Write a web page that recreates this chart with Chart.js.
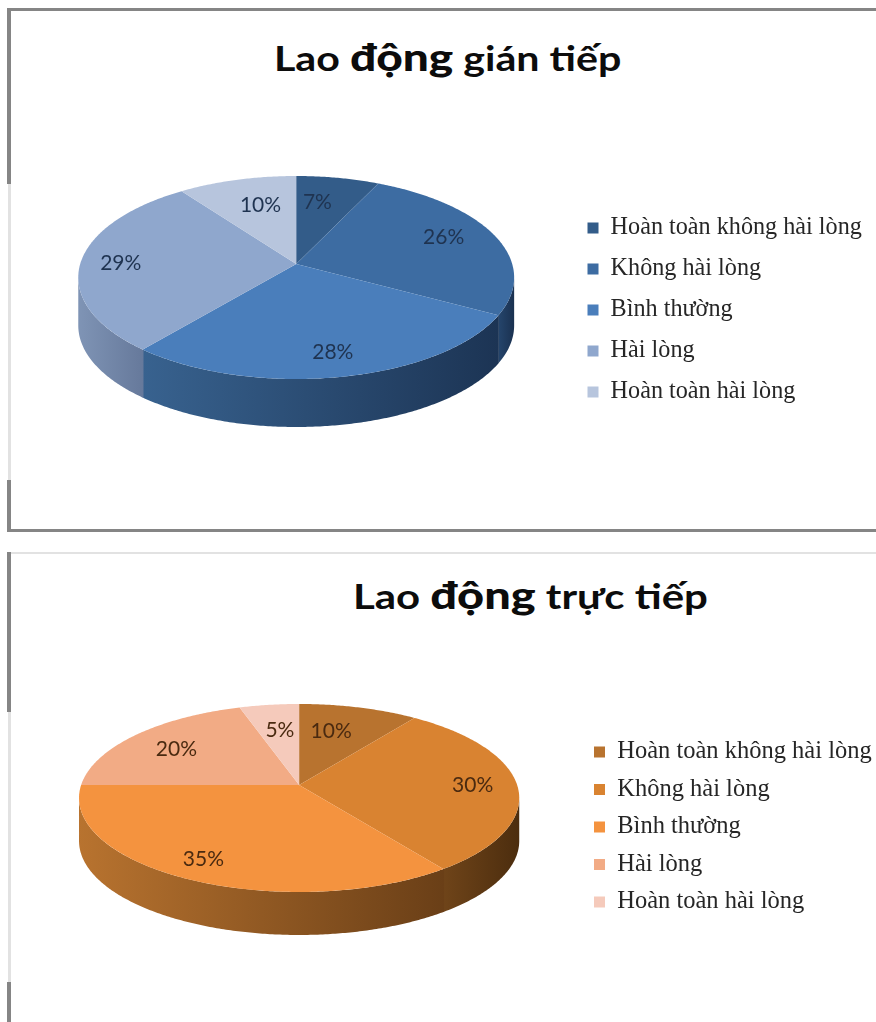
<!DOCTYPE html>
<html lang="vi">
<head>
<meta charset="utf-8">
<title>Mức độ hài lòng của người lao động</title>
<script src="https://cdn.jsdelivr.net/npm/chart.js@4"></script>
<style>
  html, body { margin: 0; padding: 0; background: #fff; }
  body { position: relative; width: 876px; height: 1022px; overflow: hidden; }
  canvas { position: absolute; left: 0; }
  .rule { position: absolute; background: #858585; }
  .rule.soft { background: #e2e2e2; }
  .heading {
    position: absolute; margin: 0; white-space: nowrap; color: #0c0c0c;
    font-family: Lato, "Open Sans", sans-serif; font-weight: 700; font-size: 34px; line-height: 44px;
    transform: scaleX(1.21); transform-origin: left center;
  }
  .heading b { font-size: 38px; font-weight: 900; }
</style>
</head>
<body>
<!-- panel frames -->
<div class="rule" style="left:7px;top:8px;width:869px;height:3px"></div>
<div class="rule" style="left:7px;top:8px;width:4px;height:176px"></div>
<div class="rule soft" style="left:8px;top:184px;width:3px;height:296px"></div>
<div class="rule" style="left:7px;top:480px;width:4px;height:52px"></div>
<div class="rule" style="left:7px;top:529px;width:869px;height:3px"></div>
<div class="rule soft" style="left:7px;top:552px;width:869px;height:2px"></div>
<div class="rule" style="left:7px;top:552px;width:4px;height:160px"></div>
<div class="rule soft" style="left:8px;top:712px;width:3px;height:270px"></div>
<div class="rule" style="left:7px;top:982px;width:4px;height:40px"></div>

<h2 class="heading" style="left:274px;top:34px">Lao <b>động</b> gián tiếp</h2>
<h2 class="heading" style="left:353px;top:572px;transform:scaleX(1.233)">Lao <b>động</b> trực tiếp</h2>

<canvas id="indirect" style="top:0" width="876" height="530"></canvas>
<canvas id="direct" style="top:530px" width="876" height="492"></canvas>

<script>
const categories = ["Hoàn toàn không hài lòng", "Không hài lòng", "Bình thường", "Hài lòng", "Hoàn toàn hài lòng"];
const indirectValues = [7, 26, 28, 29, 10];
const directValues = [10, 30, 35, 20, 5];

const indirectColors = ["#335c89", "#3d6ca2", "#4a7ebb", "#8fa7cd", "#b7c5dd"];
const directColors = ["#b8732f", "#d98331", "#f4933f", "#f2ab85", "#f5cabb"];

// rim shading, left colour then right colour, only the slices that reach the front
const indirectWalls = { 1: ["#25456c", "#1a3150"], 2: ["#38628f", "#1c3454"], 3: ["#7f94b5", "#66799b"] };
const directWalls = { 1: ["#6f4419", "#4c2d0e"], 2: ["#b8732f", "#6a3f17"] };

// Turns the flat circle Chart.js lays out into a tilted disc with a slight
// perspective. Angles and radius come from the arc elements.
const tiltedPie = {
  id: "tiltedPie",
  afterLayout(chart, args, opts) {
    const legend = chart.legend;
    legend.left = opts.legendLeft - legend.options.labels.padding;
    legend.top += opts.legendShift;
    legend.bottom += opts.legendShift;
  },
  beforeDatasetDraw(chart, args, opts) {
    const ctx = chart.ctx;
    const arcs = args.meta.data;
    const wallDepth = opts.depth;

    const project = (arc, angle, frac) => {
      const sin = Math.sin(angle), cos = Math.cos(angle);
      const w = 1 - opts.perspective * frac * sin;
      return {
        x: arc.x + frac * arc.outerRadius * cos / w,
        y: arc.y + frac * arc.outerRadius * opts.squash * sin / w
      };
    };

    const rimAngles = (from, to) => {
      const out = [];
      const steps = Math.max(2, Math.ceil((to - from) / 0.01));
      for (let s = 0; s <= steps; s++) out.push(from + (to - from) * s / steps);
      return out;
    };

    // side wall first, only where the rim faces the viewer
    const frontStart = Math.asin(opts.perspective);
    const frontEnd = Math.PI - frontStart;
    arcs.forEach((arc, i) => {
      const stops = opts.walls[i];
      if (!stops) return;
      // small overlap so no light seam shows between neighbours
      const from = Math.max(arc.startAngle - 0.004, frontStart);
      const to = Math.min(arc.endAngle, frontEnd);
      if (to <= from) return;
      const rim = rimAngles(from, to).map(a => project(arc, a, 1));
      const grad = ctx.createLinearGradient(Math.min(...rim.map(p => p.x)), 0, Math.max(...rim.map(p => p.x)), 0);
      grad.addColorStop(0, stops[0]);
      grad.addColorStop(1, stops[1]);
      ctx.beginPath();
      rim.forEach((p, n) => n ? ctx.lineTo(p.x, p.y) : ctx.moveTo(p.x, p.y));
      rim.slice().reverse().forEach(p => ctx.lineTo(p.x, p.y + wallDepth));
      ctx.closePath();
      ctx.fillStyle = grad;
      ctx.fill();
    });

    // top surface
    arcs.forEach(arc => {
      ctx.beginPath();
      ctx.moveTo(arc.x, arc.y);
      rimAngles(arc.startAngle, arc.endAngle).forEach(a => {
        const p = project(arc, a, 1);
        ctx.lineTo(p.x, p.y);
      });
      ctx.closePath();
      ctx.fillStyle = arc.options.backgroundColor;
      ctx.fill();
    });

    // percentage labels
    ctx.font = "21px Lato, 'Open Sans', sans-serif";
    ctx.textAlign = "center";
    ctx.textBaseline = "middle";
    ctx.fillStyle = opts.labelColor;
    arcs.forEach((arc, i) => {
      const mid = (arc.startAngle + arc.endAngle) / 2;
      const p = project(arc, mid, 0.75);
      const shift = opts.labelShift[i];
      ctx.fillText(chart.data.datasets[0].data[i] + "%", p.x + shift[0], p.y + shift[1]);
    });
    return false;
  }
};

function drawPie(id, values, colors, pie, legendLabels, layoutPadding) {
  return new Chart(document.getElementById(id), {
    type: "pie",
    plugins: [tiltedPie],
    data: {
      labels: categories,
      datasets: [{ data: values, backgroundColor: colors, borderWidth: 0 }]
    },
    options: {
      responsive: false,
      animation: false,
      layout: { padding: layoutPadding },
      plugins: {
        tooltip: { enabled: false },
        legend: {
          position: "right",
          labels: {
            boxWidth: 11,
            boxHeight: 11,
            padding: legendLabels.padding,
            color: "#262626",
            font: { family: "'Liberation Serif', serif", size: legendLabels.size }
          }
        },
        tiltedPie: pie
      }
    }
  });
}

drawPie("indirect", indirectValues, indirectColors, {
  perspective: 0.133, squash: 0.4616, depth: 48, walls: indirectWalls,
  legendLeft: 587.5, legendShift: 46,
  labelColor: "#1f3350",
  labelShift: [[-11, 5], [-2, -4], [3, 7], [-14, 2], [10, 6]]
}, { padding: 16.75, size: 24.2 }, { left: 17.5, right: 0, top: 48, bottom: 50 });

drawPie("direct", directValues, directColors, {
  perspective: 0.138, squash: 0.423, depth: 43, walls: directWalls,
  legendLeft: 594, legendShift: 42,
  labelColor: "#4a2a10",
  labelShift: [[-14, 6], [10, 0], [-14, 6], [2, 3], [4, 7]]
}, { padding: 13, size: 24.5 }, { left: 23, right: 0, top: 37, bottom: 19 });
</script>
</body>
</html>
